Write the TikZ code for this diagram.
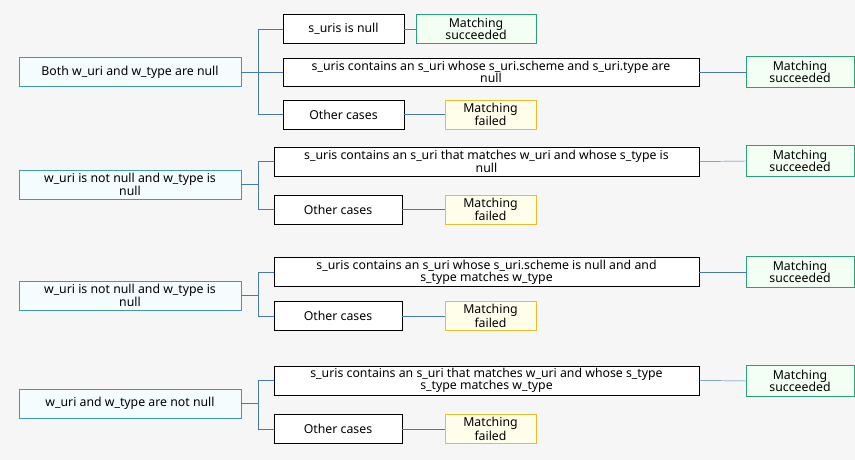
\documentclass[tikz,border=0pt]{standalone}
\usepackage{fontspec}
\setmainfont{Noto Sans}
\definecolor{pageGray}{RGB}{246,246,247}
\definecolor{linkBlue}{RGB}{74,120,176}
\definecolor{rootBlue}{RGB}{62,150,200}
\definecolor{okGreen}{RGB}{40,160,120}
\definecolor{failYellow}{RGB}{235,190,40}
\begin{document}
\begin{tikzpicture}[x=0.03cm,y=-0.03cm,
    every node/.style={font=\fontsize{10.5}{10.5}\selectfont,align=center,inner sep=0pt},
    root/.style={draw=rootBlue,fill=cyan!4,minimum width=6.66cm,minimum height=0.88cm},
    cond/.style={draw=black,fill=white,minimum height=0.88cm},
    ok/.style={draw=okGreen,fill=green!5,minimum width=3.24cm,minimum height=0.94cm},
    fail/.style={draw=failYellow,fill=yellow!8,minimum width=2.73cm,minimum height=0.88cm},
    link/.style={draw=linkBlue,thin}]
  \fill[pageGray] (0,0) rectangle (855,460);
  % Group 1
  \node[root] (r1) at (130,72) {Both w\_uri and w\_type are null};
  \node[cond,minimum width=3.63cm] (c11) at (343.5,29) {s\_uris is null};
  \node[ok,minimum width=3.6cm,minimum height=0.88cm] (m11) at (476,29) {Matching\\succeeded};
  \node[cond,minimum width=12.48cm,minimum height=0.84cm] (c12) at (491,72) {s\_uris contains an s\_uri whose s\_uri.scheme and s\_uri.type are\\null};
  \node[ok] (m12) at (800,72) {Matching\\succeeded};
  \node[cond,minimum width=3.63cm] (c13) at (343.5,114.5) {Other cases};
  \node[fail] (m13) at (490.5,114.5) {Matching\\failed};
  \coordinate (b1) at (258,72);
  % Group 2
  \node[root] (r2) at (130,184.5) {w\_uri is not null and w\_type is\\null};
  \node[cond,minimum width=12.75cm] (c21) at (486.5,161.5) {s\_uris contains an s\_uri that matches w\_uri and whose s\_type is\\null};
  \node[ok] (m21) at (800,161) {Matching\\succeeded};
  \node[cond,minimum width=3.84cm] (c22) at (338,209.5) {Other cases};
  \node[fail] (m22) at (490.5,209.5) {Matching\\failed};
  \coordinate (b2) at (258,184.5);
  % Group 3
  \node[root] (r3) at (130,295.5) {w\_uri is not null and w\_type is\\null};
  \node[cond,minimum width=12.75cm] (c31) at (486.5,272) {s\_uris contains an s\_uri whose s\_uri.scheme is null and and\\s\_type matches w\_type};
  \node[ok] (m31) at (800,272) {Matching\\succeeded};
  \node[cond,minimum width=3.84cm] (c32) at (338,316) {Other cases};
  \node[fail] (m32) at (490.5,316) {Matching\\failed};
  \coordinate (b3) at (258,295.5);
  % Group 4
  \node[root] (r4) at (130,403.5) {w\_uri and w\_type are not null};
  \node[cond,minimum width=12.75cm] (c41) at (486.5,380.5) {s\_uris contains an s\_uri that matches w\_uri and whose s\_type\\s\_type matches w\_type};
  \node[ok] (m41) at (800,381) {Matching\\succeeded};
  \node[cond,minimum width=3.84cm] (c42) at (338,429) {Other cases};
  \node[fail] (m42) at (490.5,429) {Matching\\failed};
  \coordinate (b4) at (258,403.5);
  % Connectors
  \foreach \g/\kids in {1/{1,2,3},2/{1,2},3/{1,2},4/{1,2}}{
    \draw[link] (r\g.east) -- (b\g);
    \foreach \k in \kids{
      \draw[link] (b\g) |- (c\g\k.west);
      \draw[link] (c\g\k.east) -- (m\g\k.west);
    }
  }
\end{tikzpicture}
\end{document}
